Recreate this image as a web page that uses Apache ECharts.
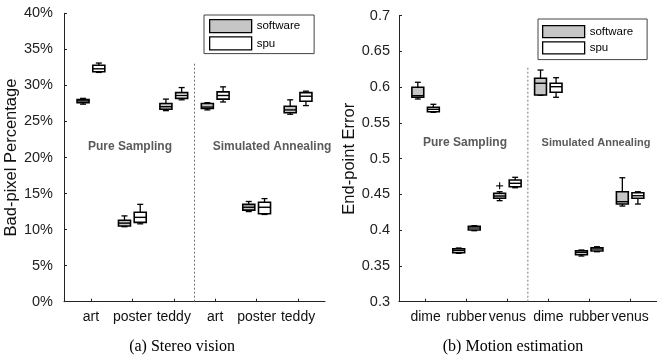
<!DOCTYPE html>
<html>
<head>
<meta charset="utf-8">
<script src="https://cdn.jsdelivr.net/npm/echarts@6/dist/echarts.min.js"></script>
<style>html,body{margin:0;padding:0;background:#fff}#c{width:665px;height:362px}</style>
</head>
<body>
<div id="c"></div>
<script>
// ---- data ----
const stereoCats = ['art', 'poster', 'teddy', 'art', 'poster', 'teddy'];
const motionCats = ['dime', 'rubber', 'venus', 'dime', 'rubber', 'venus'];
const seriesNames = ['software', 'spu'];
// [min, q1, median, q3, max] in percent
const stereoSoftware = [
  [27.4, 27.6, 27.85, 28.05, 28.2],
  [10.4, 10.5, 10.9, 11.3, 11.9],
  [26.5, 26.7, 27.05, 27.5, 28.1],
  [26.6, 26.8, 27.0, 27.5, 27.6],
  [12.5, 12.7, 13.1, 13.5, 13.9],
  [26.0, 26.2, 26.6, 27.1, 28.0]
];
const stereoSpu = [
  [31.8, 31.9, 32.3, 32.8, 33.1],
  [10.8, 11.0, 11.7, 12.4, 13.5],
  [28.0, 28.2, 28.6, 29.0, 29.7],
  [27.7, 28.1, 28.6, 29.1, 29.8],
  [12.1, 12.2, 13.1, 13.8, 14.3],
  [27.2, 27.8, 28.5, 29.0, 29.2]
];
const motionSoftware = [
  [0.5835, 0.5859, 0.5881, 0.5999, 0.6069],
  [0.3677, 0.3685, 0.3719, 0.3741, 0.3751],
  [0.4413, 0.4446, 0.4478, 0.4516, 0.4538],
  [0.5887, 0.5890, 0.6055, 0.6125, 0.6240],
  [0.3639, 0.3657, 0.3691, 0.3713, 0.3723],
  [0.4338, 0.4366, 0.4399, 0.4538, 0.4734]
];
const motionSpu = [
  [0.5649, 0.5657, 0.5691, 0.5719, 0.5761],
  [0.3993, 0.4003, 0.4031, 0.4055, 0.4063],
  [0.4594, 0.4608, 0.4656, 0.4702, 0.4740],
  [0.5859, 0.5929, 0.6007, 0.6055, 0.6133],
  [0.3699, 0.3709, 0.3737, 0.3755, 0.3769],
  [0.4366, 0.4446, 0.4482, 0.4524, 0.4538]
];
// outliers: [category index (1-based), value]
const motionSoftwareOutliers = [[3, 0.462]];
const stereoSeparatorTop = 33.2;
const motionSeparatorTop = 0.628;
const groupLabels = ['Pure Sampling', 'Simulated Annealing'];

// ---- rendering ----
const FONT = '"Liberation Sans", Arial, sans-serif';
const SERIF = '"Liberation Serif", "Times New Roman", serif';
const SW_FILL = '#c6c6c6';
const SPU_FILL = '#ffffff';

function boxRender(offset, fill) {
  return function (params, api) {
    const x = api.value(0) + offset;
    const pMin = api.coord([x, api.value(1)]);
    const pQ1 = api.coord([x, api.value(2)]);
    const pMed = api.coord([x, api.value(3)]);
    const pQ3 = api.coord([x, api.value(4)]);
    const pMax = api.coord([x, api.value(5)]);
    const w = api.size([0.29, 0])[0];
    const cap = w * 0.5;
    const cx = pMed[0];
    const ls = { stroke: '#000', lineWidth: 1.3 };
    return {
      type: 'group',
      children: [
        { type: 'line', shape: { x1: cx, y1: pMax[1], x2: cx, y2: pQ3[1] }, style: ls },
        { type: 'line', shape: { x1: cx, y1: pQ1[1], x2: cx, y2: pMin[1] }, style: ls },
        { type: 'line', shape: { x1: cx - cap / 2, y1: pMax[1], x2: cx + cap / 2, y2: pMax[1] }, style: ls },
        { type: 'line', shape: { x1: cx - cap / 2, y1: pMin[1], x2: cx + cap / 2, y2: pMin[1] }, style: ls },
        { type: 'rect', shape: { x: cx - w / 2, y: pQ3[1], width: w, height: Math.max(pQ1[1] - pQ3[1], 1) },
          style: { fill: fill, stroke: '#000', lineWidth: 1.6 } },
        { type: 'line', shape: { x1: cx - w / 2, y1: pMed[1], x2: cx + w / 2, y2: pMed[1] }, style: { stroke: '#000', lineWidth: 1.4 } }
      ]
    };
  };
}
function outlierRender(offset) {
  return function (params, api) {
    const p = api.coord([api.value(0) + offset, api.value(1)]);
    const s = 3.5;
    const ls = { stroke: '#000', lineWidth: 1.1 };
    return { type: 'group', children: [
      { type: 'line', shape: { x1: p[0] - s, y1: p[1], x2: p[0] + s, y2: p[1] }, style: ls },
      { type: 'line', shape: { x1: p[0], y1: p[1] - s, x2: p[0], y2: p[1] + s }, style: ls }
    ]};
  };
}
function toData(arr) { return arr.map((v, i) => [i + 1].concat(v)); }

const OFF = 0.19;
const axisColor = '#222';
function xAxisFor(gridIndex, cats) {
  return {
    type: 'value', gridIndex: gridIndex, min: 0.35, max: 6.65,
    axisLine: { lineStyle: { color: axisColor, width: 1 } },
    axisTick: { show: true, inside: true, length: 3, customValues: [1, 2, 3, 4, 5, 6], lineStyle: { color: axisColor } },
    axisLabel: { show: true, customValues: [1, 2, 3, 4, 5, 6], margin: 8, fontSize: 14, color: '#111', fontFamily: FONT,
      formatter: v => cats[Math.round(v) - 1] || '' },
    splitLine: { show: false }
  };
}
function legendFor(left, top, itemHeight, padding) {
  return { orient: 'vertical', left: left, top: top, itemWidth: 42, itemHeight: itemHeight, itemGap: 3,
    padding: padding, borderColor: '#444', borderWidth: 1, backgroundColor: '#fff',
    icon: 'rect', selectedMode: false,
    textStyle: { fontSize: 11.5, color: '#000', fontFamily: FONT, lineHeight: itemHeight },
    data: [
      { name: seriesNames[0], itemStyle: { color: SW_FILL, borderColor: '#000', borderWidth: 1.3 } },
      { name: seriesNames[1], itemStyle: { color: SPU_FILL, borderColor: '#000', borderWidth: 1.3 } }
    ] };
}
const labelText = (x, y, text, size) => ({ type: 'text', x: x, y: y,
  style: { text: text, font: 'bold ' + size + 'px ' + FONT, fill: '#5a5a5a', align: 'center', verticalAlign: 'middle' } });

const option = {
  animation: false,
  grid: [
    { left: 64, top: 13.3, width: 261, height: 288.4 },
    { left: 399, top: 15.7, width: 257.7, height: 286 }
  ],
  xAxis: [xAxisFor(0, stereoCats), xAxisFor(1, motionCats)],
  yAxis: [
    { type: 'value', gridIndex: 0, min: 0, max: 40, interval: 5,
      name: 'Bad-pixel Percentage', nameLocation: 'middle', nameGap: 43, nameRotate: 90,
      nameTextStyle: { fontSize: 16.5, color: '#111', fontFamily: FONT },
      axisLine: { show: true, lineStyle: { color: axisColor } },
      axisTick: { show: true, inside: true, length: 3, lineStyle: { color: axisColor } },
      axisLabel: { formatter: '{value}%', fontSize: 14.5, color: '#222', margin: 11, fontFamily: FONT },
      splitLine: { show: false } },
    { type: 'value', gridIndex: 1, min: 0.3, max: 0.7, interval: 0.05,
      name: 'End-point Error', nameLocation: 'middle', nameGap: 37, nameRotate: 90,
      nameTextStyle: { fontSize: 16.5, color: '#111', fontFamily: FONT },
      axisLine: { show: true, lineStyle: { color: axisColor } },
      axisTick: { show: true, inside: true, length: 3, lineStyle: { color: axisColor } },
      axisLabel: { fontSize: 14.5, color: '#222', margin: 9, fontFamily: FONT },
      splitLine: { show: false } }
  ],
  legend: [
    legendFor(204, 15, 13, [4, 14, 3, 5]),
    legendFor(538, 19, 12, [6, 14, 5, 4])
  ],
  series: [
    { type: 'line', xAxisIndex: 0, yAxisIndex: 0, silent: true, symbol: 'none', z: 1,
      data: [[3.5, 0], [3.5, stereoSeparatorTop]], lineStyle: { color: '#777', width: 1, type: [2, 2] } },
    { type: 'line', xAxisIndex: 1, yAxisIndex: 1, silent: true, symbol: 'none', z: 1,
      data: [[3.5, 0.3], [3.5, motionSeparatorTop]], lineStyle: { color: '#777', width: 1, type: [2, 2] } },
    { name: seriesNames[0], type: 'custom', xAxisIndex: 0, yAxisIndex: 0, itemStyle: { color: SW_FILL },
      renderItem: boxRender(-OFF, SW_FILL), encode: { x: 0, y: [1, 2, 3, 4, 5] }, data: toData(stereoSoftware), z: 3 },
    { name: seriesNames[1], type: 'custom', xAxisIndex: 0, yAxisIndex: 0, itemStyle: { color: SPU_FILL },
      renderItem: boxRender(OFF, SPU_FILL), encode: { x: 0, y: [1, 2, 3, 4, 5] }, data: toData(stereoSpu), z: 3 },
    { name: seriesNames[0], type: 'custom', xAxisIndex: 1, yAxisIndex: 1, itemStyle: { color: SW_FILL },
      renderItem: boxRender(-OFF, SW_FILL), encode: { x: 0, y: [1, 2, 3, 4, 5] }, data: toData(motionSoftware), z: 3 },
    { name: seriesNames[1], type: 'custom', xAxisIndex: 1, yAxisIndex: 1, itemStyle: { color: SPU_FILL },
      renderItem: boxRender(OFF, SPU_FILL), encode: { x: 0, y: [1, 2, 3, 4, 5] }, data: toData(motionSpu), z: 3 },
    { type: 'custom', xAxisIndex: 1, yAxisIndex: 1, renderItem: outlierRender(-OFF),
      encode: { x: 0, y: 1 }, data: motionSoftwareOutliers, z: 3 }
  ],
  graphic: [
    labelText(130, 147, groupLabels[0], 12),
    labelText(272, 147, groupLabels[1], 12),
    labelText(465, 143, groupLabels[0], 12),
    labelText(596, 143, groupLabels[1], 11),
    { type: 'text', x: 182, y: 347, style: { text: '(a) Stereo vision', font: '16px ' + SERIF, fill: '#000', align: 'center', verticalAlign: 'middle' } },
    { type: 'text', x: 513, y: 347, style: { text: '(b) Motion estimation', font: '16px ' + SERIF, fill: '#000', align: 'center', verticalAlign: 'middle' } }
  ]
};
const chart = echarts.init(document.getElementById('c'), null, { renderer: 'canvas' });
chart.setOption(option);
</script>
</body>
</html>
